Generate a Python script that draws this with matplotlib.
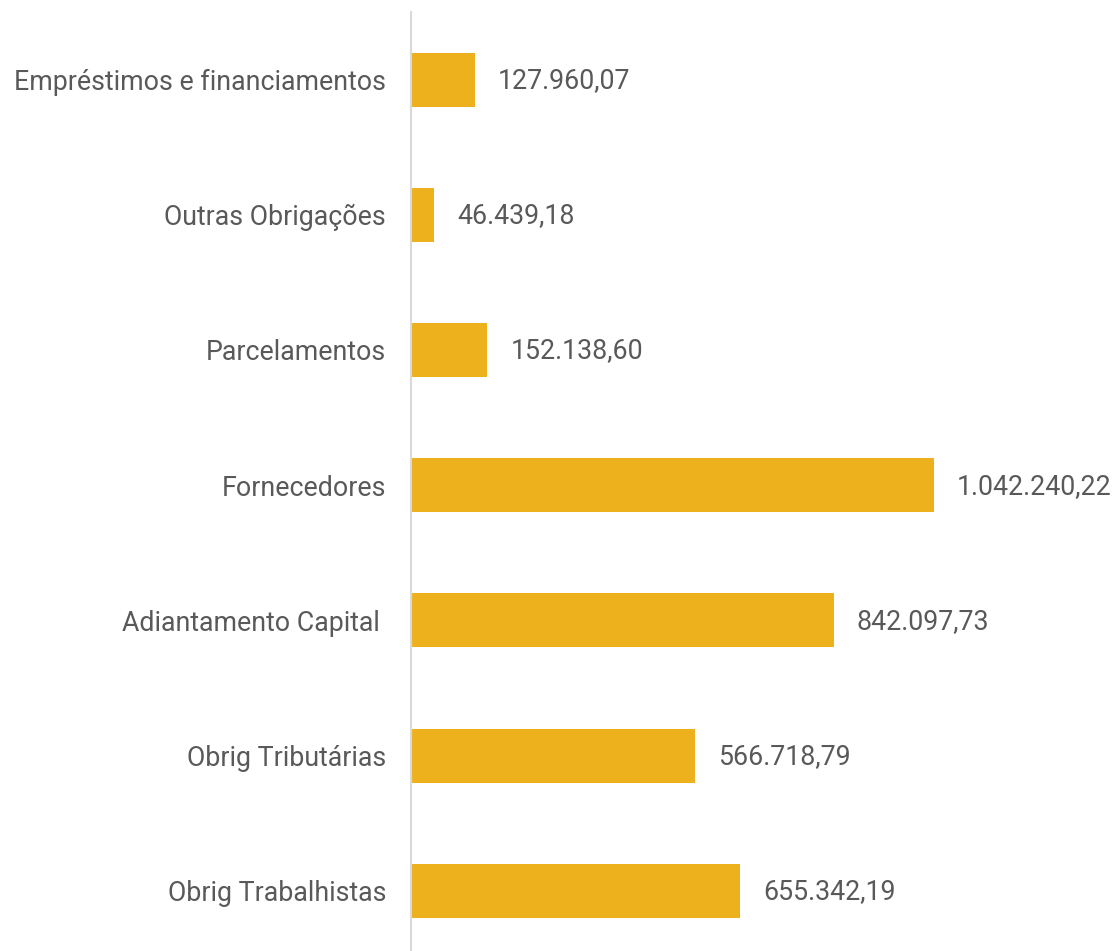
import matplotlib
matplotlib.use("Agg")
import matplotlib.pyplot as plt

categorias = ['Empréstimos e financiamentos', 'Outras Obrigações', 'Parcelamentos',
              'Fornecedores', 'Adiantamento Capital ', 'Obrig Tributárias',
              'Obrig Trabalhistas']
valores = [127960.07, 46439.18, 152138.60, 1042240.22, 842097.73, 566718.79, 655342.19]


def fmt_br(v):
    s = f"{v:,.2f}"
    return s.replace(',', 'X').replace('.', ',').replace('X', '.')


plt.rcParams['font.family'] = ['Roboto', 'DejaVu Sans']

W, H = 1116, 951
fig = plt.figure(figsize=(W / 100, H / 100), dpi=100)
# axes: left edge at the grey line, top at y=12, seven bands of ~135 px
top, band = 12, 135.2
bottom = top + band * len(categorias)
ax = fig.add_axes([411 / W, 1 - bottom / H, (W - 411) / W, band * len(categorias) / H])

bar_color = '#EDB11E'
text_color = '#595959'
fs = 19.3

y = range(len(categorias))
ax.barh(y, valores, height=0.4, color=bar_color)
ax.set_ylim(len(categorias) - 0.5, -0.5)
ax.set_xlim(0, (W - 411) / (934 - 411) * max(valores))

ax.set_yticks(list(y))
ax.set_yticklabels(categorias, fontsize=fs, color=text_color)
ax.tick_params(axis='y', length=0, pad=18)
ax.set_xticks([])

for s in ['top', 'right', 'bottom']:
    ax.spines[s].set_visible(False)
ax.spines['left'].set_color('#D9D9D9')
ax.spines['left'].set_linewidth(1.5)

for i, v in enumerate(valores):
    ax.annotate(fmt_br(v), (v, i), xytext=(16.5, -0.7), textcoords='offset points',
                va='center', ha='left', fontsize=fs, color=text_color)

fig.savefig('out.png', dpi=100)
